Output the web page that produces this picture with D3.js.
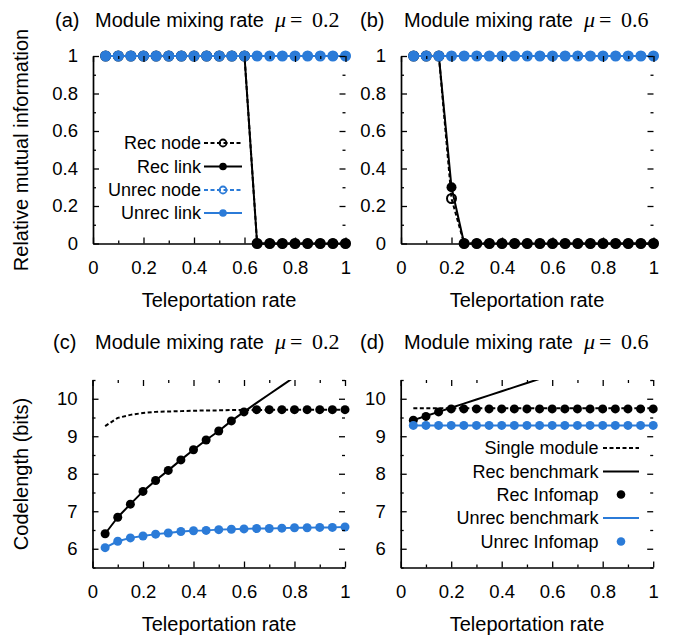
<!DOCTYPE html>
<html><head><meta charset="utf-8">
<script src="https://cdn.jsdelivr.net/npm/d3@7"></script>
<style>html,body{margin:0;padding:0;background:#fff;}</style>
</head><body>
<svg id="chart" width="674" height="635"></svg>
<script>
// ---------- DATA ----------
const tele = [0.05,0.10,0.15,0.20,0.25,0.30,0.35,0.40,0.45,0.50,0.55,0.60,0.65,0.70,0.75,0.80,0.85,0.90,0.95,1.00];
const xTickLabels = [0,0.2,0.4,0.6,0.8,1];
const miTickLabels = [0,0.2,0.4,0.6,0.8,1];
const clTickLabels = [6,7,8,9,10];

// (a) mu = 0.2, relative mutual information
const aRecNode   = [1,1,1,1,1,1,1,1,1,1,1,1,0,0,0,0,0,0,0,0];
const aRecLink   = [1,1,1,1,1,1,1,1,1,1,1,1,0,0,0,0,0,0,0,0];
const aUnrecNode = [1,1,1,1,1,1,1,1,1,1,1,1,1,1,1,1,1,1,1,1];
const aUnrecLink = [1,1,1,1,1,1,1,1,1,1,1,1,1,1,1,1,1,1,1,1];
// (b) mu = 0.6
const bRecNode   = [1,1,1,0.24,0,0,0,0,0,0,0,0,0,0,0,0,0,0,0,0];
const bRecLink   = [1,1,1,0.30,0,0,0,0,0,0,0,0,0,0,0,0,0,0,0,0];
const bUnrecNode = [1,1,1,1,1,1,1,1,1,1,1,1,1,1,1,1,1,1,1,1];
const bUnrecLink = [1,1,1,1,1,1,1,1,1,1,1,1,1,1,1,1,1,1,1,1];
// (c) mu = 0.2, codelength
const cSingle       = [9.27,9.49,9.57,9.62,9.65,9.66,9.67,9.68,9.69,9.69,9.70,9.70,9.70,9.70,9.71,9.71,9.71,9.71,9.71,9.71];
const cRecBench     = [6.40,6.84,7.19,7.53,7.82,8.09,8.37,8.64,8.90,9.14,9.41,9.65,9.89,10.12,10.35,10.58];
const cRecInfomap   = [6.40,6.84,7.19,7.53,7.82,8.09,8.37,8.64,8.90,9.14,9.41,9.65,9.71,9.71,9.71,9.71,9.71,9.71,9.71,9.71];
const cUnrecBench   = [6.03,6.20,6.29,6.34,6.39,6.42,6.46,6.48,6.49,6.51,6.52,6.53,6.54,6.54,6.55,6.56,6.56,6.57,6.57,6.58];
const cUnrecInfomap = [6.03,6.20,6.29,6.34,6.39,6.42,6.46,6.48,6.49,6.51,6.52,6.53,6.54,6.54,6.55,6.56,6.56,6.57,6.57,6.58];
// (d) mu = 0.6
const dSingle       = [9.75,9.75,9.75,9.75,9.75,9.75,9.75,9.75,9.75,9.75,9.75,9.75,9.75,9.75,9.75,9.75,9.75,9.75,9.75,9.75];
const dRecBench     = [9.43,9.54,9.65,9.76,9.87,9.98,10.09,10.20,10.31,10.42,10.53];
const dRecInfomap   = [9.43,9.53,9.65,9.73,9.73,9.73,9.73,9.73,9.73,9.73,9.73,9.73,9.73,9.73,9.73,9.73,9.73,9.73,9.73,9.73];
const dUnrecBench   = [9.29,9.29,9.29,9.29,9.29,9.29,9.29,9.29,9.29,9.29,9.29,9.29,9.29,9.29,9.29,9.29,9.29,9.29,9.29,9.29];
const dUnrecInfomap = [9.29,9.29,9.29,9.29,9.29,9.29,9.29,9.29,9.29,9.29,9.29,9.29,9.29,9.29,9.29,9.29,9.29,9.29,9.29,9.29];

const legendMI = ["Rec node","Rec link","Unrec node","Unrec link"];
const legendCL = ["Single module","Rec benchmark","Rec Infomap","Unrec benchmark","Unrec Infomap"];

// ---------- STYLE ----------
const SANS = "'Liberation Sans', Arial, sans-serif";
const SERIF = "'Liberation Serif', 'DejaVu Serif', serif";
const BLUE = "#2b7bd8";
const BLACK = "#000";
const DASH = "4,2.5";

const svg = d3.select("#chart");
svg.append("rect").attr("width",674).attr("height",635).attr("fill","#fff");
const fmt = d3.format("~g");

function makePanel(p){
  const x = d3.scaleLinear().domain([0,1]).range([p.left,p.right]);
  const y = d3.scaleLinear().domain(p.yDomain).range([p.bottom,p.top]);
  const clipId = "clip-"+p.id;
  svg.append("clipPath").attr("id",clipId).append("rect")
    .attr("x",p.left).attr("y",p.top).attr("width",p.right-p.left).attr("height",p.bottom-p.top);
  const g = svg.append("g");
  return {p,x,y,g,clipId};
}

function line(P, ys, color, dash, clip){
  const pts = ys.map((v,i)=>[tele[i],v]);
  const gen = d3.line().x(d=>P.x(d[0])).y(d=>P.y(d[1]));
  const path = P.g.append("path").attr("d",gen(pts)).attr("fill","none")
    .attr("stroke",color).attr("stroke-width",2).attr("stroke-linejoin","round");
  if(dash) path.attr("stroke-dasharray",dash);
  if(clip) path.attr("clip-path",`url(#${P.clipId})`);
}
function dots(P, ys, color, r, open){
  P.g.append("g").selectAll("circle").data(ys.map((v,i)=>[tele[i],v])).join("circle")
    .attr("cx",d=>P.x(d[0])).attr("cy",d=>P.y(d[1])).attr("r",r)
    .attr("fill",open?"none":color).attr("stroke",open?color:"none").attr("stroke-width",open?2:0);
}

function axes(P, yMajor, yMinor){
  const {p,x,y,g} = P;
  const xMinor = [0.1,0.3,0.5,0.7,0.9];
  const style = sel => {
    sel.attr("font-family",SANS).attr("font-size",18.5);
    sel.selectAll("path.domain").attr("stroke","#000").attr("stroke-width",1.7);
    sel.selectAll(".tick line").attr("stroke","#000").attr("stroke-width",1.3);
    sel.selectAll(".tick text").attr("fill","#000");
  };
  // bottom
  g.append("g").attr("transform",`translate(0,${p.bottom})`)
    .call(d3.axisBottom(x).tickValues(xTickLabels).tickFormat(fmt).tickSizeInner(-6).tickSizeOuter(0).tickPadding(17)).call(style);
  g.append("g").attr("transform",`translate(0,${p.bottom})`)
    .call(d3.axisBottom(x).tickValues(xMinor).tickFormat("").tickSizeInner(-3).tickSizeOuter(0)).call(style)
    .call(s=>s.select(".domain").remove());
  // top
  g.append("g").attr("transform",`translate(0,${p.top})`)
    .call(d3.axisTop(x).tickValues(xTickLabels).tickFormat("").tickSizeInner(-6).tickSizeOuter(0)).call(style)
    .call(s=>s.select(".domain").remove());
  g.append("g").attr("transform",`translate(0,${p.top})`)
    .call(d3.axisTop(x).tickValues(xMinor).tickFormat("").tickSizeInner(-3).tickSizeOuter(0)).call(style)
    .call(s=>s.select(".domain").remove());
  // left
  g.append("g").attr("transform",`translate(${p.left},0)`)
    .call(d3.axisLeft(y).tickValues(yMajor).tickFormat(fmt).tickSizeInner(-6).tickSizeOuter(0).tickPadding(15)).call(style);
  g.append("g").attr("transform",`translate(${p.left},0)`)
    .call(d3.axisLeft(y).tickValues(yMinor).tickFormat("").tickSizeInner(-3).tickSizeOuter(0)).call(style)
    .call(s=>s.select(".domain").remove());
  // right
  g.append("g").attr("transform",`translate(${p.right},0)`)
    .call(d3.axisRight(y).tickValues(yMajor).tickFormat("").tickSizeInner(-6).tickSizeOuter(0)).call(style)
    .call(s=>s.select(".domain").remove());
  g.append("g").attr("transform",`translate(${p.right},0)`)
    .call(d3.axisRight(y).tickValues(yMinor).tickFormat("").tickSizeInner(-3).tickSizeOuter(0)).call(style)
    .call(s=>s.select(".domain").remove());
}

function title(lx, mx, yb, letter, mu){
  svg.append("text").attr("x",lx).attr("y",yb).attr("font-family",SANS).attr("font-size",20).text(letter);
  svg.append("text").attr("x",mx).attr("y",yb).attr("font-family",SANS).attr("font-size",20).text("Module mixing rate");
  svg.append("text").attr("x",mx+180).attr("y",yb).attr("font-family",SERIF).attr("font-style","italic").attr("font-size",22).text("μ");
  svg.append("text").attr("x",mx+195).attr("y",yb).attr("font-family",SERIF).attr("font-size",22).text("=");
  svg.append("text").attr("x",mx+217).attr("y",yb).attr("font-family",SERIF).attr("font-size",22).text(mu);
}
function xlabel(cx, yb){
  svg.append("text").attr("x",cx).attr("y",yb).attr("text-anchor","middle")
    .attr("font-family",SANS).attr("font-size",20).text("Teleportation rate");
}
function ylabel(cx, cy, txt){
  svg.append("text").attr("transform",`translate(${cx},${cy}) rotate(-90)`).attr("text-anchor","middle")
    .attr("dominant-baseline","central").attr("font-family",SANS).attr("font-size",20).text(txt);
}

const miMinor = [0.1,0.3,0.5,0.7,0.9];
const clMinor = [5.5,6.5,7.5,8.5,9.5,10.5];

// ---------- PANEL (a) ----------
const A = makePanel({id:"a",left:93,right:345.5,top:56,bottom:243.5,yDomain:[0,1]});
line(A,aRecNode,BLACK,DASH); dots(A,aRecNode,BLACK,4.5,true);
line(A,aRecLink,BLACK,null); dots(A,aRecLink,BLACK,5);
line(A,aUnrecNode,BLUE,DASH); dots(A,aUnrecNode,BLUE,4.5,true);
line(A,aUnrecLink,BLUE,null); dots(A,aUnrecLink,BLUE,5);
axes(A,miTickLabels,miMinor);

// legend (a)
{
  const rows=[143,166.5,190,213];
  const specs=[[BLACK,DASH,true],[BLACK,null,false],[BLUE,DASH,true],[BLUE,null,false]];
  legendMI.forEach((name,i)=>{
    const yy=rows[i]; const [c,da,open]=specs[i];
    svg.append("text").attr("x",201).attr("y",yy).attr("text-anchor","end").attr("dominant-baseline","central")
      .attr("font-family",SANS).attr("font-size",18).text(name);
    const l=svg.append("line").attr("x1",204).attr("x2",242).attr("y1",yy).attr("y2",yy).attr("stroke",c).attr("stroke-width",2);
    if(da) l.attr("stroke-dasharray",DASH);
    svg.append("circle").attr("cx",223).attr("cy",yy).attr("r",open?3.5:3.8)
      .attr("fill",open?"none":c).attr("stroke",open?c:"none").attr("stroke-width",open?1.8:0);
  });
}

// ---------- PANEL (b) ----------
const B = makePanel({id:"b",left:401,right:653.5,top:56,bottom:243.5,yDomain:[0,1]});
line(B,bRecNode,BLACK,DASH); dots(B,bRecNode,BLACK,4.5,true);
line(B,bRecLink,BLACK,null); dots(B,bRecLink,BLACK,5);
line(B,bUnrecNode,BLUE,DASH); dots(B,bUnrecNode,BLUE,4.5,true);
line(B,bUnrecLink,BLUE,null); dots(B,bUnrecLink,BLUE,5);
axes(B,miTickLabels,miMinor);

// ---------- PANEL (c) ----------
const C = makePanel({id:"c",left:92.5,right:345,top:380,bottom:567.5,yDomain:[5.5,10.5]});
line(C,cSingle,BLACK,DASH,true);
line(C,cRecBench,BLACK,null,true);
dots(C,cRecInfomap,BLACK,4.5);
line(C,cUnrecBench,BLUE,null,true);
dots(C,cUnrecInfomap,BLUE,4.5);
axes(C,clTickLabels,clMinor);

// ---------- PANEL (d) ----------
const D = makePanel({id:"d",left:400.7,right:653.2,top:380,bottom:567.5,yDomain:[5.5,10.5]});
line(D,dSingle,BLACK,DASH,true);
line(D,dRecBench,BLACK,null,true);
dots(D,dRecInfomap,BLACK,4.5);
line(D,dUnrecBench,BLUE,null,true);
dots(D,dUnrecInfomap,BLUE,4.5);
axes(D,clTickLabels,clMinor);

// legend (d)
{
  const rows=[448,471.5,494.5,518,541.5];
  const specs=[["line",BLACK,DASH],["line",BLACK,null],["dot",BLACK],["line",BLUE,null],["dot",BLUE]];
  legendCL.forEach((name,i)=>{
    const yy=rows[i]; const s=specs[i];
    svg.append("text").attr("x",598.5).attr("y",yy).attr("text-anchor","end").attr("dominant-baseline","central")
      .attr("font-family",SANS).attr("font-size",18).text(name);
    if(s[0]==="line"){
      const l=svg.append("line").attr("x1",603).attr("x2",639).attr("y1",yy).attr("y2",yy).attr("stroke",s[1]).attr("stroke-width",2);
      if(s[2]) l.attr("stroke-dasharray",DASH);
    } else {
      svg.append("circle").attr("cx",621).attr("cy",yy).attr("r",4.3).attr("fill",s[1]);
    }
  });
}

// ---------- TEXTS ----------
title(55,95,27,"(a)","0.2");
title(360,404,27,"(b)","0.6");
title(53,95,349,"(c)","0.2");
title(360,404,349,"(d)","0.6");
xlabel(219,307); xlabel(527,307);
xlabel(219,631); xlabel(527,631);
ylabel(21,150,"Relative mutual information");
ylabel(21,474,"Codelength (bits)");
</script>
</body></html>
